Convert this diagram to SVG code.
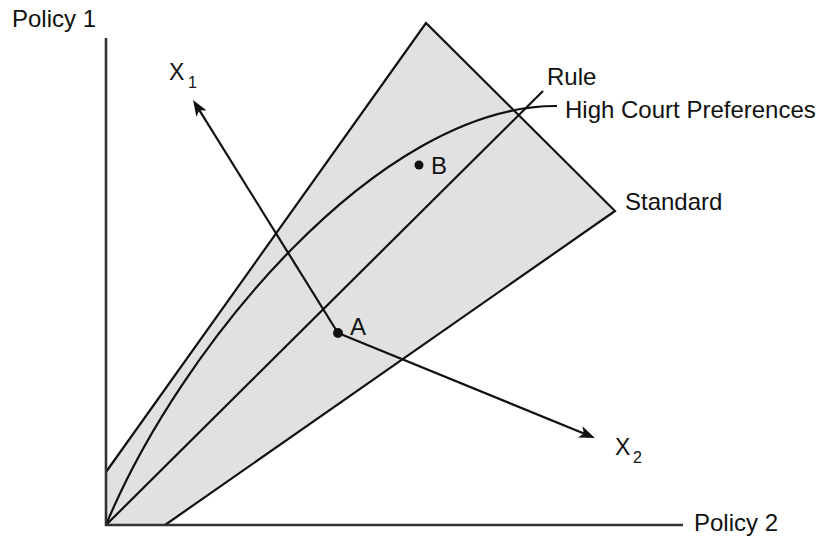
<svg xmlns="http://www.w3.org/2000/svg" width="820" height="539" viewBox="0 0 820 539">
<style>
  .ln { fill: none; stroke: #111; stroke-width: 2.2; stroke-linejoin: miter; }
  .ax { fill: none; stroke: #333; stroke-width: 2.6; }
  .lbl { font-family: "Liberation Sans", Arial, sans-serif; font-size: 24px; fill: #111; }
  .x { font-family: "Liberation Sans", Arial, sans-serif; font-size: 23px; fill: #111; }
  .sub { font-family: "Liberation Sans", Arial, sans-serif; font-size: 16px; fill: #111; }
  .dot { fill: #111; }
</style>
<defs>
  <marker id="arrow" viewBox="0 0 16 12" markerWidth="16" markerHeight="12" refX="10" refY="6" orient="auto" markerUnits="userSpaceOnUse">
    <path d="M0,0 L16,6 L0,12 L4,6 z" fill="#111"/>
  </marker>
</defs>
<rect width="820" height="539" fill="#ffffff"/>
<g id="standard">
  <polygon points="106,525 106,472 426,23 615,211 165,525" fill="#e1e1e1" stroke="none"/>
  <polyline class="ln" points="106,472 426,23 615,211 165,525"/>
  <text class="lbl" x="625" y="210">Standard</text>
</g>
<g id="rule">
  <line class="ln" x1="106" y1="525" x2="543" y2="91"/>
  <text class="lbl" x="547" y="85">Rule</text>
</g>
<g id="high-court-preferences">
  <path class="ln" d="M106,525 C178,350 378,105 557,106"/>
  <text class="lbl" x="565" y="118">High Court Preferences</text>
</g>
<g id="axes">
  <line class="ax" x1="106" y1="38" x2="106" y2="526"/>
  <line class="ax" x1="105" y1="525" x2="683" y2="525"/>
  <text class="lbl" x="12" y="27">Policy 1</text>
  <text class="lbl" x="694" y="531">Policy 2</text>
</g>
<g id="connectors">
  <line class="ln" x1="338" y1="333" x2="196.2" y2="105.1" marker-end="url(#arrow)"/>
  <line class="ln" x1="338" y1="333" x2="589.4" y2="435.7" marker-end="url(#arrow)"/>
</g>
<g id="x1-label">
  <text class="x" x="169" y="80">X</text>
  <text class="sub" x="188" y="88">1</text>
</g>
<g id="x2-label">
  <text class="x" x="615" y="455">X</text>
  <text class="sub" x="633" y="463">2</text>
</g>
<g id="point-a">
  <circle class="dot" cx="338" cy="333" r="5"/>
  <text class="lbl" x="350" y="335">A</text>
</g>
<g id="point-b">
  <circle class="dot" cx="419" cy="165" r="4.5"/>
  <text class="lbl" x="431" y="174">B</text>
</g>
</svg>
